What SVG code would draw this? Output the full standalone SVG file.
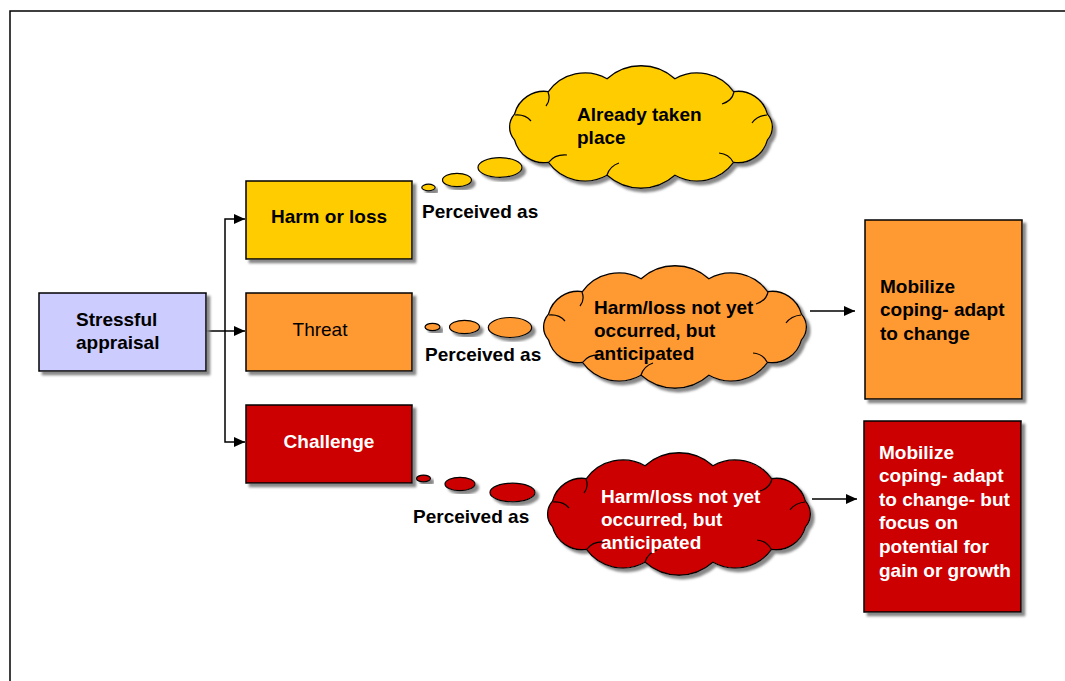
<svg xmlns="http://www.w3.org/2000/svg" xmlns:xlink="http://www.w3.org/1999/xlink" width="1065" height="681" viewBox="0 0 1065 681">
  <style>
    text { font-family: "Liberation Sans", Arial, sans-serif; font-size: 19px; font-weight: bold; fill: #000; }
    .white { fill: #fff; }
    .normal { font-weight: normal; }
    .box { stroke: #000; stroke-width: 1.5; filter: url(#shadow); }
    .cloud { stroke: #000; stroke-width: 1.3; filter: url(#shadow); }
    .curl { fill: none; stroke: #000; stroke-width: 1.2; }
    .bubble { stroke: #000; stroke-width: 1.2; filter: url(#shadow); }
    .link { fill: none; stroke: #000; stroke-width: 1.5; }
  </style>
  <defs>
    <filter id="shadow" x="-10%" y="-10%" width="130%" height="130%">
      <feDropShadow dx="3.5" dy="3.5" stdDeviation="1.2" flood-color="#7a7a7a" flood-opacity="0.9"/>
    </filter>
    <marker id="arrow" viewBox="0 0 11 10" refX="11" refY="5" markerWidth="11" markerHeight="10" markerUnits="userSpaceOnUse" orient="auto">
      <path d="M0,0 L11,5 L0,10 Z" fill="#000"/>
    </marker>
    <!-- thought cloud outline, about 263 x 122 -->
    <path id="cloud" d="M8.5,47.1 A30.5,30.5 0 0 1 42.4,24.6 A45.1,45.1 0 0 1 101.1,11.7 A50.9,50.9 0 0 1 168.9,11.7 A45.1,45.1 0 0 1 227.6,24.6 A30.5,30.5 0 0 1 261.5,47.1 A19.4,19.4 0 0 1 261.5,72.9 A30.5,30.5 0 0 1 227.6,95.4 A45.1,45.1 0 0 1 168.9,108.3 A50.9,50.9 0 0 1 101.1,108.3 A45.1,45.1 0 0 1 42.4,95.4 A30.5,30.5 0 0 1 8.5,72.9 A19.4,19.4 0 0 1 8.5,47.1 Z"/>
    <path id="curls" d="M9,48 q10,-1 16,6 M42,25 q3,8 -2,14 M228,25 q-2,9 -12,12 M261,48 q-10,1 -15,8 M227,95 q-4,-8 -14,-9 M101,108 q3,-9 12,-12 M43,95 q6,-8 18,-7"/>
  </defs>

  <rect width="1065" height="681" fill="#fff"/>
  <!-- frame -->
  <path d="M10,681 V11 H1065" fill="none" stroke="#000" stroke-width="1.5"/>

  <!-- connectors -->
  <g id="connectors">
    <path class="link" d="M206,331 H245" marker-end="url(#arrow)"/>
    <path class="link" d="M225,331 V219 H245" marker-end="url(#arrow)"/>
    <path class="link" d="M225,331 V442 H245" marker-end="url(#arrow)"/>
    <path class="link" d="M810,311 H855" marker-end="url(#arrow)"/>
    <path class="link" d="M812,499 H857" marker-end="url(#arrow)"/>
  </g>

  <g id="stressful-appraisal">
    <rect class="box" x="39" y="293" width="167" height="78" fill="#ccccff"/>
    <text x="76" y="326">Stressful</text>
    <text x="76" y="349">appraisal</text>
  </g>

  <g id="harm-or-loss">
    <rect class="box" x="246" y="181" width="166" height="78" fill="#ffcc00"/>
    <text x="329" y="223" text-anchor="middle">Harm or loss</text>
  </g>

  <g id="threat">
    <rect class="box" x="246" y="293" width="166" height="78" fill="#ff9933"/>
    <text class="normal" x="320" y="336" text-anchor="middle">Threat</text>
  </g>

  <g id="challenge">
    <rect class="box" x="246" y="405" width="166" height="78" fill="#cc0000"/>
    <text class="white" x="329" y="448" text-anchor="middle">Challenge</text>
  </g>

  <g id="thought-harm">
    <ellipse class="bubble" cx="428.5" cy="187.5" rx="6.7" ry="3.3" fill="#ffcc00"/>
    <ellipse class="bubble" cx="457" cy="180" rx="14.5" ry="6.7" fill="#ffcc00"/>
    <ellipse class="bubble" cx="500" cy="167.5" rx="22" ry="9.8" fill="#ffcc00"/>
    <text x="422" y="218">Perceived as</text>
    <g transform="translate(506,67)">
      <use xlink:href="#cloud" class="cloud" fill="#ffcc00"/>
      <use xlink:href="#curls" class="curl"/>
    </g>
    <text x="577" y="121">Already taken</text>
    <text x="577" y="144">place</text>
  </g>

  <g id="thought-threat">
    <ellipse class="bubble" cx="432.5" cy="327" rx="7.5" ry="3.7" fill="#ff9933"/>
    <ellipse class="bubble" cx="464.5" cy="327" rx="15" ry="6.7" fill="#ff9933"/>
    <ellipse class="bubble" cx="510" cy="327.5" rx="21.7" ry="10" fill="#ff9933"/>
    <text x="425" y="361">Perceived as</text>
    <g transform="translate(540,267)">
      <use xlink:href="#cloud" class="cloud" fill="#ff9933"/>
      <use xlink:href="#curls" class="curl"/>
    </g>
    <text x="594" y="314">Harm/loss not yet</text>
    <text x="594" y="337">occurred, but</text>
    <text x="594" y="360">anticipated</text>
  </g>

  <g id="thought-challenge">
    <ellipse class="bubble" cx="423.5" cy="478.5" rx="7" ry="3.4" fill="#cc0000"/>
    <ellipse class="bubble" cx="460" cy="484" rx="15" ry="6.7" fill="#cc0000"/>
    <ellipse class="bubble" cx="512.5" cy="492.5" rx="22.5" ry="9.3" fill="#cc0000"/>
    <text x="413" y="523">Perceived as</text>
    <g transform="translate(544,454)">
      <use xlink:href="#cloud" class="cloud" fill="#cc0000"/>
      <use xlink:href="#curls" class="curl"/>
    </g>
    <text class="white" x="601" y="503">Harm/loss not yet</text>
    <text class="white" x="601" y="526">occurred, but</text>
    <text class="white" x="601" y="549">anticipated</text>
  </g>

  <g id="mobilize-threat">
    <rect class="box" x="865" y="220" width="157" height="179" fill="#ff9933"/>
    <text x="880" y="293">Mobilize</text>
    <text x="880" y="316">coping- adapt</text>
    <text x="880" y="340">to change</text>
  </g>

  <g id="mobilize-challenge">
    <rect class="box" x="864" y="421" width="157" height="191" fill="#cc0000"/>
    <text class="white" x="879" y="459">Mobilize</text>
    <text class="white" x="879" y="482">coping- adapt</text>
    <text class="white" x="879" y="506">to change- but</text>
    <text class="white" x="879" y="529">focus on</text>
    <text class="white" x="879" y="553">potential for</text>
    <text class="white" x="879" y="577">gain or growth</text>
  </g>
</svg>
